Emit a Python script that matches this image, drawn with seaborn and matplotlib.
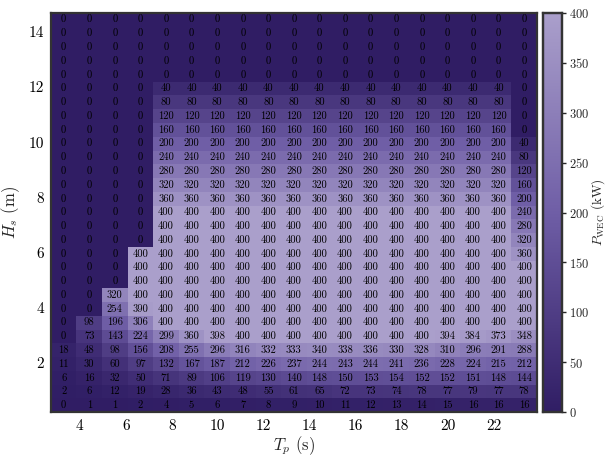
import numpy as np
import pandas as pd
import matplotlib
matplotlib.use("Agg")
import matplotlib.pyplot as plt
import seaborn as sns

# ---- data ----
Tp = [3.30, 4.41, 5.53, 6.64, 7.75, 8.86, 9.98, 11.09, 12.20, 13.31,
      14.43, 15.54, 16.65, 17.76, 18.88, 19.99, 21.10, 22.21, 23.33]
Hs = [14.5, 14.0, 13.5, 13.0, 12.5, 12.0, 11.5, 11.0, 10.5, 10.0,
      9.5, 9.0, 8.5, 8.0, 7.5, 7.0, 6.5, 6.0, 5.5, 5.0,
      4.5, 4.0, 3.5, 3.0, 2.5, 2.0, 1.5, 1.0, 0.5]

row_14_5 = [0]*19
row_14_0 = [0]*19
row_13_5 = [0]*19
row_13_0 = [0]*19
row_12_5 = [0]*19
row_12_0 = [0, 0, 0, 0] + [40]*14 + [0]
row_11_5 = [0, 0, 0, 0] + [80]*14 + [0]
row_11_0 = [0, 0, 0, 0] + [120]*14 + [0]
row_10_5 = [0, 0, 0, 0] + [160]*14 + [0]
row_10_0 = [0, 0, 0, 0] + [200]*14 + [40]
row_9_5 = [0, 0, 0, 0] + [240]*14 + [80]
row_9_0 = [0, 0, 0, 0] + [280]*14 + [120]
row_8_5 = [0, 0, 0, 0] + [320]*14 + [160]
row_8_0 = [0, 0, 0, 0] + [360]*14 + [200]
row_7_5 = [0, 0, 0, 0] + [400]*14 + [240]
row_7_0 = [0, 0, 0, 0] + [400]*14 + [280]
row_6_5 = [0, 0, 0, 0] + [400]*14 + [320]
row_6_0 = [0, 0, 0] + [400]*15 + [360]
row_5_5 = [0, 0, 0] + [400]*16
row_5_0 = [0, 0, 0] + [400]*16
row_4_5 = [0, 0, 320] + [400]*16
row_4_0 = [0, 0, 254, 390] + [400]*15
row_3_5 = [0, 98, 196, 306] + [400]*15
row_3_0 = [0, 73, 143, 224, 299, 360, 398, 400, 400, 400,
           400, 400, 400, 400, 400, 394, 384, 373, 348]
row_2_5 = [18, 48, 98, 156, 208, 255, 296, 316, 332, 333,
           340, 338, 336, 330, 328, 310, 296, 291, 288]
row_2_0 = [11, 30, 60, 97, 132, 167, 187, 212, 226, 237,
           244, 243, 244, 241, 236, 228, 224, 215, 212]
row_1_5 = [6, 16, 32, 50, 71, 89, 106, 119, 130, 140,
           148, 150, 153, 154, 152, 152, 151, 148, 144]
row_1_0 = [2, 6, 12, 19, 28, 36, 43, 48, 55, 61,
           65, 72, 73, 74, 78, 77, 79, 77, 78]
row_0_5 = [0, 1, 1, 2, 4, 5, 6, 7, 8, 9,
           10, 11, 12, 13, 14, 15, 16, 16, 16]

rows = [row_14_5, row_14_0, row_13_5, row_13_0, row_12_5, row_12_0, row_11_5,
        row_11_0, row_10_5, row_10_0, row_9_5, row_9_0, row_8_5, row_8_0,
        row_7_5, row_7_0, row_6_5, row_6_0, row_5_5, row_5_0, row_4_5,
        row_4_0, row_3_5, row_3_0, row_2_5, row_2_0, row_1_5, row_1_0, row_0_5]

x_ticks = [4, 6, 8, 10, 12, 14, 16, 18, 20, 22]
y_ticks = [2, 4, 6, 8, 10, 12, 14]
cbar_ticks = [0, 50, 100, 150, 200, 250, 300, 350, 400]

# ---- style ----
sns.set_style("white")
plt.rcParams["font.family"] = ["serif"]
plt.rcParams["font.serif"] = ["cmr10", "DejaVu Serif"]
plt.rcParams["mathtext.fontset"] = "cm"
plt.rcParams["axes.formatter.use_mathtext"] = True

df = pd.DataFrame(rows, index=Hs, columns=Tp)

cmap = sns.blend_palette(["#301d64", "#6f5ea6", "#aa9fcb"], as_cmap=True)

fig = plt.figure(figsize=(6.06, 4.59), dpi=100)
ax = fig.add_axes([0.084, 0.102, 0.802, 0.870])
cax = fig.add_axes([0.896, 0.102, 0.031, 0.870])

sns.heatmap(df, ax=ax, cbar_ax=cax, cmap=cmap, vmin=0, vmax=400,
            annot=True, fmt="d", linewidths=0,
            annot_kws={"size": 7.6, "color": "black"},
            cbar_kws={"ticks": cbar_ticks})

# map numeric ticks to heatmap cell positions
dT = (Tp[-1] - Tp[0]) / (len(Tp) - 1)
dH = (Hs[0] - Hs[-1]) / (len(Hs) - 1)
ax.set_xticks([(t - Tp[0]) / dT + 0.5 for t in x_ticks])
ax.set_xticklabels([str(t) for t in x_ticks], rotation=0)
ax.set_yticks([(Hs[0] - h) / dH + 0.5 for h in y_ticks])
ax.set_yticklabels([str(h) for h in y_ticks], rotation=0)

ax.tick_params(axis="both", which="both", direction="in", length=4, width=1.2,
               top=True, right=True, bottom=True, left=True,
               labelsize=11, colors="#333333", labelcolor="black", pad=5)
for s in ax.spines.values():
    s.set_visible(True)
    s.set_color("#333333")
    s.set_linewidth(1.6)

ax.set_xlabel(r"$T_p$ (s)", fontsize=12, labelpad=1)
ax.set_ylabel(r"$H_s$ (m)", fontsize=12, labelpad=5)

cax.tick_params(labelsize=9, length=3, width=1, direction="out", pad=2)
cax.set_ylabel(r"$P_{\mathrm{WEC}}$ (kW)", fontsize=9.5)
cax.yaxis.set_label_coords(2.92, 0.5)
cax.yaxis.label.set_verticalalignment("center")
for s in cax.spines.values():
    s.set_visible(True)
    s.set_color("#333333")
    s.set_linewidth(1.6)

fig.savefig("out.png", dpi=100)
